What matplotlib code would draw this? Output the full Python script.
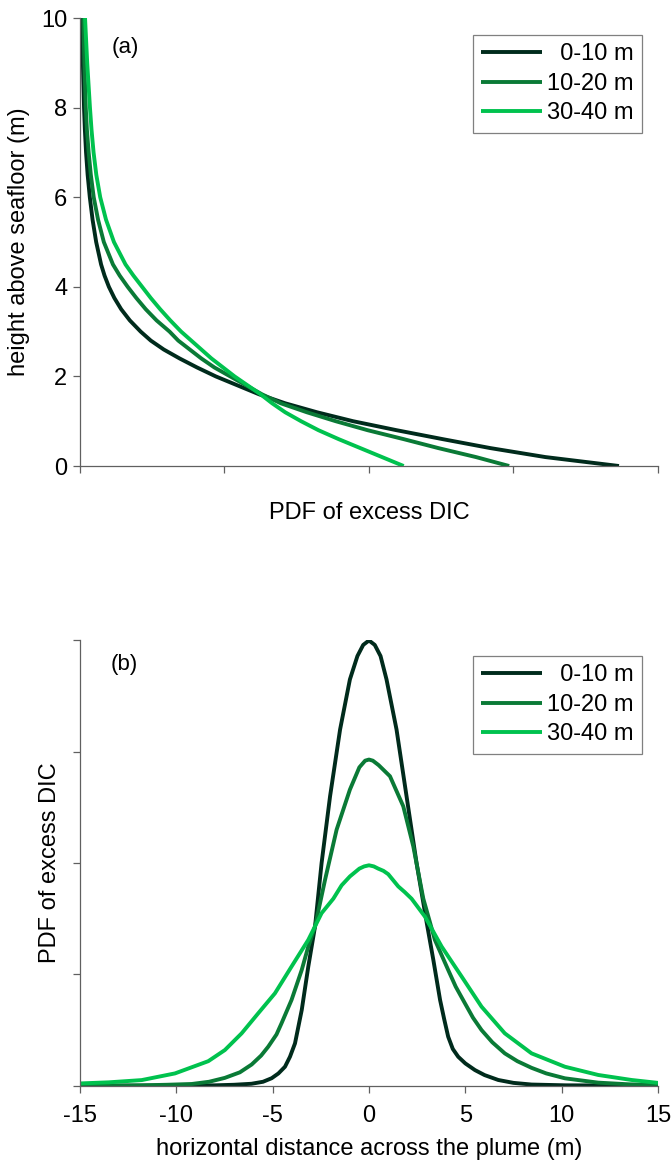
import matplotlib
matplotlib.use("Agg")
import matplotlib.pyplot as plt

plt.rcParams["font.family"] = ["Liberation Sans", "DejaVu Sans"]
plt.rcParams["font.size"] = 17
plt.rcParams["axes.unicode_minus"] = False

# Panel (a): vertical profiles, PDF value vs height above seafloor
heights = [0, 0.2, 0.4, 0.6, 0.8, 1.0, 1.2, 1.4, 1.6, 1.8, 2.0, 2.2, 2.4, 2.6,
           2.8, 3.0, 3.25, 3.5, 3.75, 4.0, 4.25, 4.5, 5.0, 5.5, 6.0, 6.5, 7.0,
           7.5, 8.0, 9.0, 10.0]
pdf_a_0_10 = [3.73, 3.22, 2.84, 2.51, 2.19, 1.89, 1.64, 1.42, 1.24, 1.09, 0.94,
              0.81, 0.69, 0.58, 0.49, 0.42, 0.345, 0.285, 0.238, 0.200, 0.170,
              0.146, 0.112, 0.087, 0.068, 0.053, 0.042, 0.034, 0.028, 0.02, 0.016]
pdf_a_10_20 = [2.97, 2.74, 2.48, 2.24, 1.99, 1.77, 1.57, 1.39, 1.26, 1.15, 1.04,
               0.93, 0.84, 0.76, 0.68, 0.62, 0.53, 0.455, 0.39, 0.33, 0.275,
               0.228, 0.165, 0.125, 0.095, 0.075, 0.06, 0.048, 0.04, 0.03, 0.023]
pdf_a_30_40 = [2.24, 2.09, 1.94, 1.79, 1.65, 1.53, 1.42, 1.33, 1.25, 1.16, 1.07,
               0.99, 0.91, 0.84, 0.77, 0.70, 0.625, 0.555, 0.49, 0.43, 0.37,
               0.315, 0.235, 0.18, 0.14, 0.113, 0.094, 0.08, 0.069, 0.05, 0.035]

# Panel (b): cross-plume distributions
x_b_0_10 = [-15, -10, -8, -7, -6.1, -5.5, -5.05, -4.7, -4.36, -4.1, -3.84, -3.49,
            -3.15, -2.8, -2.46, -2.02, -1.5, -0.99, -0.6, -0.3, 0, 0.3, 0.6,
            0.91, 1.43, 1.95, 2.47, 3.0, 3.34, 3.69, 3.9, 4.11, 4.35, 4.63, 5.0,
            5.5, 6.0, 6.71, 7.5, 8.44, 10.2, 15]
pdf_b_0_10 = [0, 0.001, 0.003, 0.008, 0.017, 0.035, 0.067, 0.11, 0.17, 0.26, 0.38,
              0.68, 1.07, 1.43, 2.0, 2.6, 3.2, 3.65, 3.86, 3.96, 4.0, 3.96, 3.86,
              3.65, 3.2, 2.6, 2.0, 1.46, 1.13, 0.77, 0.6, 0.44, 0.33, 0.26, 0.2,
              0.14, 0.095, 0.051, 0.025, 0.01, 0.003, 0]

x_b_10_20 = [-15, -13, -11.8, -10.5, -9.2, -8.3, -7.48, -6.7, -6.09, -5.6, -5.23,
             -4.8, -4.54, -4.02, -3.49, -3.15, -2.8, -2.28, -1.68, -0.99, -0.5,
             -0.2, 0, 0.2, 0.5, 1.09, 1.78, 2.3, 2.82, 3.42, 4.11, 4.5, 4.98, 5.4,
             5.84, 6.4, 7.05, 7.7, 8.44, 9.2, 10.17, 11.9, 13.5, 15]
pdf_b_10_20 = [0, 0.001, 0.003, 0.008, 0.015, 0.035, 0.07, 0.12, 0.19, 0.27, 0.35,
               0.46, 0.56, 0.77, 1.04, 1.25, 1.43, 1.85, 2.3, 2.66, 2.86, 2.92,
               2.93, 2.92, 2.88, 2.78, 2.51, 2.15, 1.68, 1.31, 1.04, 0.89, 0.74,
               0.61, 0.50, 0.39, 0.29, 0.22, 0.16, 0.11, 0.066, 0.027, 0.012, 0.005]

x_b_30_40 = [-15, -13.5, -11.8, -10.07, -8.34, -7.48, -6.61, -5.75, -4.88, -4.02,
             -3.15, -2.46, -1.85, -1.42, -0.99, -0.5, -0.25, 0, 0.25, 0.48, 0.75,
             1.0, 1.52, 1.85, 2.21, 2.9, 3.77, 4.81, 5.84, 7.05, 8.44, 10.17, 11.9,
             13.63, 15]
pdf_b_30_40 = [0.02, 0.03, 0.05, 0.11, 0.22, 0.32, 0.47, 0.65, 0.83, 1.07, 1.31,
               1.55, 1.68, 1.80, 1.88, 1.95, 1.97, 1.98, 1.97, 1.95, 1.93, 1.90,
               1.79, 1.74, 1.68, 1.52, 1.25, 0.98, 0.71, 0.47, 0.29, 0.17, 0.096,
               0.051, 0.025]

labels = ["  0-10 m", "10-20 m", "30-40 m"]
colors = ["#002b1c", "#0a7a36", "#00c24e"]
spine_col = "#606060"
lw = 2.8

fig = plt.figure(figsize=(6.71, 11.63), dpi=100)
ax1 = fig.add_axes([0.1192, 0.5993, 0.8614, 0.3852])
ax2 = fig.add_axes([0.1192, 0.0665, 0.8614, 0.3828])

# panel (a)
for xs, lab, c in zip([pdf_a_0_10, pdf_a_10_20, pdf_a_30_40], labels, colors):
    ax1.plot(xs, heights, color=c, lw=lw, label=lab, solid_capstyle="butt",
             solid_joinstyle="round")
ax1.set_xlim(0, 4)
ax1.set_ylim(0, 10)
ax1.set_xticks([0, 1, 2, 3, 4])
ax1.set_xticklabels([])
ax1.set_yticks([0, 2, 4, 6, 8, 10])
ax1.set_xlabel("PDF of excess DIC")
ax1.xaxis.set_label_coords(0.5, -0.08)
ax1.set_ylabel("height above seafloor (m)")
ax1.yaxis.set_label_coords(-0.086, 0.5)
ax1.text(0.078, 0.935, "(a)", transform=ax1.transAxes, ha="center", va="center", fontsize=16)

# panel (b)
for xs, ys, lab, c in zip([x_b_0_10, x_b_10_20, x_b_30_40],
                          [pdf_b_0_10, pdf_b_10_20, pdf_b_30_40], labels, colors):
    ax2.plot(xs, ys, color=c, lw=lw, label=lab, solid_capstyle="butt",
             solid_joinstyle="round")
ax2.set_xlim(-15, 15)
ax2.set_ylim(0, 4)
ax2.set_xticks([-15, -10, -5, 0, 5, 10, 15])
ax2.set_yticks([0, 1, 2, 3, 4])
ax2.set_yticklabels([])
ax2.set_xlabel("horizontal distance across the plume (m)")
ax2.xaxis.set_label_coords(0.5, -0.117)
ax2.set_ylabel("PDF of excess DIC")
ax2.yaxis.set_label_coords(-0.032, 0.5)
ax2.text(0.076, 0.945, "(b)", transform=ax2.transAxes, ha="center", va="center", fontsize=16)

for ax, anchor_y in [(ax1, 0.962), (ax2, 0.965)]:
    for side in ["top", "right"]:
        ax.spines[side].set_visible(False)
    for side in ["left", "bottom"]:
        ax.spines[side].set_color(spine_col)
        ax.spines[side].set_linewidth(0.9)
    ax.tick_params(direction="out", length=5, width=0.9, color=spine_col,
                   labelsize=17, pad=4)
    leg = ax.legend(loc="upper right", bbox_to_anchor=(0.972, anchor_y),
                    frameon=True, fancybox=False, fontsize=17, handlelength=2.6,
                    handletextpad=0.2, borderpad=0.35, labelspacing=0.32,
                    borderaxespad=0)
    leg.get_frame().set_edgecolor(spine_col)
    leg.get_frame().set_linewidth(0.9)

ax2.tick_params(axis="x", pad=9)

fig.savefig("out.png", dpi=100)
